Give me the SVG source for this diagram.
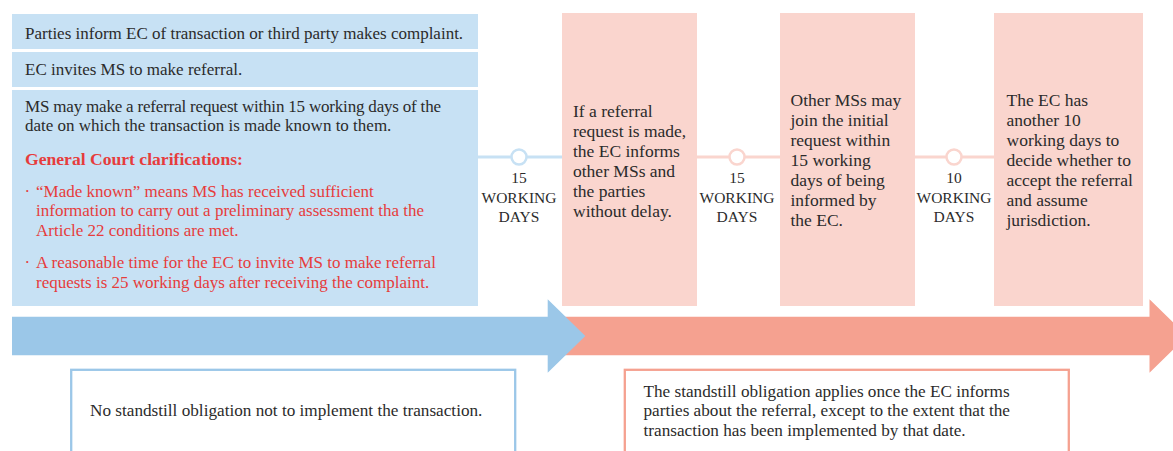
<svg xmlns="http://www.w3.org/2000/svg" width="1173" height="451" viewBox="0 0 1173 451">
<style>
text{font-family:"Liberation Serif","DejaVu Serif",serif;font-size:17px;fill:#2b2b2b}
.red{fill:#e63c3c}
.b{font-weight:bold;font-size:17.6px}
.lab{text-anchor:middle;font-size:15.5px}
.pt{font-size:17.5px}
.bt{font-size:17.2px}
.bbox{fill:#c7e1f4}
.pbox{fill:#fad5ce}
.bline{stroke:#c7e1f4;stroke-width:3;fill:none}
.pline{stroke:#fad5ce;stroke-width:3;fill:none}
.bdot{fill:#fff;stroke:#c7e1f4;stroke-width:2.5}
.pdot{fill:#fff;stroke:#fad5ce;stroke-width:2.5}
</style>
<rect width="1173" height="451" fill="#fff"/>
<g id="connectors">
<line class="bline" x1="478" y1="157" x2="562" y2="157"/>
<circle class="bdot" cx="519" cy="157" r="7.5"/>
<line class="pline" x1="697" y1="157" x2="780" y2="157"/>
<circle class="pdot" cx="737" cy="157" r="7.5"/>
<line class="pline" x1="915" y1="157" x2="994" y2="157"/>
<circle class="pdot" cx="954" cy="157" r="7.5"/>
<text class="lab" x="519" y="183">15</text>
<text class="lab" x="519" y="203">WORKING</text>
<text class="lab" x="519" y="222">DAYS</text>
<text class="lab" x="737" y="183">15</text>
<text class="lab" x="737" y="203">WORKING</text>
<text class="lab" x="737" y="222">DAYS</text>
<text class="lab" x="954" y="183">10</text>
<text class="lab" x="954" y="203">WORKING</text>
<text class="lab" x="954" y="222">DAYS</text>
</g>
<g id="n1">
<rect class="bbox" x="12" y="14" width="466" height="35"/>
<text x="25" y="39">Parties inform EC of transaction or third party makes complaint.</text>
</g>
<g id="n2">
<rect class="bbox" x="12" y="52" width="466" height="35"/>
<text x="25" y="75">EC invites MS to make referral.</text>
</g>
<g id="n3">
<rect class="bbox" x="12" y="90" width="466" height="216"/>
<text x="25" y="111.5" textLength="416" lengthAdjust="spacing">MS may make a referral request within 15 working days of the</text>
<text x="25" y="130.5">date on which the transaction is made known to them.</text>
<text class="red b" x="25" y="165">General Court clarifications:</text>
<text class="red" x="24.5" y="196.5">·</text>
<text class="red" x="36" y="196.5">“Made known” means MS has received sufficient</text>
<text class="red" x="36" y="216">information to carry out a preliminary assessment tha the</text>
<text class="red" x="36" y="235.5">Article 22 conditions are met.</text>
<text class="red" x="24.5" y="268">·</text>
<text class="red" x="36" y="268">A reasonable time for the EC to invite MS to make referral</text>
<text class="red" x="36" y="287.5">requests is 25 working days after receiving the complaint.</text>
</g>
<g id="n4">
<rect class="pbox" x="562" y="13" width="135" height="293"/>
<text class="pt" x="573" y="117">If a referral</text>
<text class="pt" x="573" y="137">request is made,</text>
<text class="pt" x="573" y="157">the EC informs</text>
<text class="pt" x="573" y="177">other MSs and</text>
<text class="pt" x="573" y="197">the parties</text>
<text class="pt" x="573" y="217">without delay.</text>
</g>
<g id="n5">
<rect class="pbox" x="780" y="13" width="135" height="293"/>
<text class="pt" x="790.5" y="106">Other MSs may</text>
<text class="pt" x="790.5" y="126">join the initial</text>
<text class="pt" x="790.5" y="146">request within</text>
<text class="pt" x="790.5" y="166">15 working</text>
<text class="pt" x="790.5" y="186">days of being</text>
<text class="pt" x="790.5" y="206">informed by</text>
<text class="pt" x="790.5" y="226">the EC.</text>
</g>
<g id="n6">
<rect class="pbox" x="994" y="13" width="149" height="293"/>
<text class="pt" x="1006.5" y="106">The EC has</text>
<text class="pt" x="1006.5" y="126">another 10</text>
<text class="pt" x="1006.5" y="146">working days to</text>
<text class="pt" x="1006.5" y="166">decide whether to</text>
<text class="pt" x="1006.5" y="186">accept the referral</text>
<text class="pt" x="1006.5" y="206">and assume</text>
<text class="pt" x="1006.5" y="226">jurisdiction.</text>
</g>
<g id="arrow-pink">
<polygon fill="#f5a190" points="548,316.7 1149.5,316.7 1149.5,299.3 1187,336 1149.5,372.7 1149.5,355.3 548,355.3"/>
</g>
<g id="arrow-blue">
<polygon fill="#9bc7e8" points="12,316.7 547.7,316.7 547.7,299.3 585.3,336 547.7,372.7 547.7,355.3 12,355.3"/>
</g>
<g id="n7">
<rect x="71.2" y="369.8" width="444" height="100" fill="#fff" stroke="#9bc7e8" stroke-width="2.3"/>
<text class="bt" x="90" y="416">No standstill obligation not to implement the transaction.</text>
</g>
<g id="n8">
<rect x="624.8" y="369.8" width="444" height="100" fill="#fff" stroke="#f5a190" stroke-width="2.3"/>
<text class="bt" x="643.5" y="396.5">The standstill obligation applies once the EC informs</text>
<text class="bt" x="643.5" y="416">parties about the referral, except to the extent that the</text>
<text class="bt" x="643.5" y="435.5">transaction has been implemented by that date.</text>
</g>
</svg>
